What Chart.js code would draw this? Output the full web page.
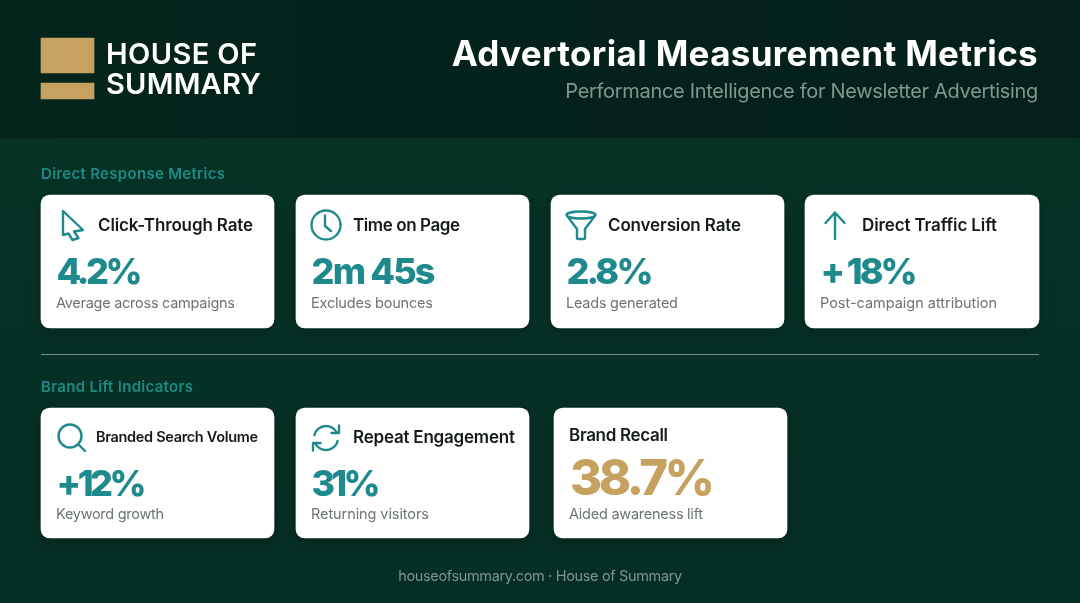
<!DOCTYPE html>
<html>
<head>
<meta charset="utf-8">
<title>Advertorial Measurement Metrics</title>
<script src="https://cdn.jsdelivr.net/npm/chart.js@4"></script>
<style>
    html, body { margin: 0; padding: 0; background: #052e24; }
    canvas { display: block; }
</style>
</head>
<body>
<canvas id="chart" width="1080" height="603"></canvas>
<script>
const tileTitles = ['Click-Through Rate', 'Time on Page', 'Conversion Rate', 'Direct Traffic Lift', 'Branded Search Volume', 'Repeat Engagement', 'Brand Recall']
const tileValues = ['4.2%', '2m 45s', '2.8%', '+ 18%', '+12%', '31%', '38.7%']
const tileNotes = ['Average across campaigns', 'Excludes bounces', 'Leads generated', 'Post-campaign attribution', 'Keyword growth', 'Returning visitors', 'Aided awareness lift']
const tileIcons = ['cursor', 'clock', 'funnel', 'arrow', 'search', 'refresh', null]
const sections = ['Direct Response Metrics', 'Brand Lift Indicators']

// layout of the tiles, in canvas pixels (the axes run 0-1080 and 0-603)
const rowOneEdges = [[41, 274], [296, 529], [551, 784], [805, 1039]]
const rowTwoEdges = [[41, 274], [296, 529], [554, 787]]
const titleWidths = [155, 107, 133, 135, 162, 162, 99]
const valueWidths = [86, 124, 87, 97, 90, 69, 145]
const noteWidths = [179, 122, 112, 177, 108, 118, 134]

const TEAL = '#1f8a8d'
const GOLD = '#c6a15f'

const text = (ctx, str, x, y, font, color, width, align = 'left') => {
    ctx.save()
    ctx.font = font
    ctx.fillStyle = color
    ctx.textAlign = align
    ctx.textBaseline = 'middle'
    if (width) {
        ctx.letterSpacing = '0px'
        const spacing = (width - ctx.measureText(str).width) / Math.max(str.length - 1, 1)
        ctx.letterSpacing = `${spacing}px`
    }
    ctx.fillText(str, x, y)
    ctx.restore()
}

const icons = {
    cursor: (c) => {
        c.moveTo(63, 211); c.lineTo(83, 230); c.lineTo(74, 231.5); c.lineTo(78.5, 238)
        c.lineTo(72.5, 240); c.lineTo(68.5, 233.5); c.lineTo(63, 235); c.closePath()
    },
    clock: (c) => {
        c.arc(326, 225, 14.5, 0, Math.PI * 2)
        c.moveTo(325, 215.5); c.lineTo(325, 226); c.lineTo(331, 231)
    },
    funnel: (c) => {
        c.ellipse(581, 215, 14.5, 3.5, 0, 0, Math.PI * 2)
        c.moveTo(566.5, 215); c.lineTo(577, 229); c.lineTo(577, 238); c.quadraticCurveTo(577, 239, 579, 239)
        c.lineTo(583, 239); c.quadraticCurveTo(585, 239, 585, 238); c.lineTo(585, 229); c.lineTo(595.5, 215)
    },
    arrow: (c) => {
        c.moveTo(835, 239); c.lineTo(835, 213)
        c.moveTo(825.5, 223); c.lineTo(835, 212.5); c.lineTo(844.5, 223)
    },
    search: (c) => {
        c.moveTo(81.5, 436); c.arc(70, 436, 11.5, 0, Math.PI * 2)
        c.moveTo(78.5, 444.5); c.lineTo(85, 451)
    },
    refresh: (c) => {
        c.moveTo(314.6, 434.8); c.arc(326, 438, 12, Math.PI * 1.08, Math.PI * 1.85)
        c.moveTo(339, 425.5); c.lineTo(339, 433); c.lineTo(331.5, 433)
        c.moveTo(337.4, 441.2); c.arc(326, 438, 12, Math.PI * 0.08, Math.PI * 0.85)
        c.moveTo(313, 450.5); c.lineTo(313, 443); c.lineTo(320.5, 443)
    }
}

const backdrop = {
    id: 'backdrop',
    beforeDraw(chart) {
        const {ctx} = chart
        const body = ctx.createLinearGradient(0, 138, 0, 603)
        body.addColorStop(0, '#063226')
        body.addColorStop(1, '#052e24')
        ctx.fillStyle = body
        ctx.fillRect(0, 0, 1080, 603)
        const head = ctx.createLinearGradient(0, 0, 1080, 0)
        head.addColorStop(0, '#04241c')
        head.addColorStop(1, '#03201a')
        ctx.fillStyle = head
        ctx.fillRect(0, 0, 1080, 138)
        ctx.fillStyle = 'rgba(205, 225, 215, 0.55)'
        ctx.fillRect(41, 354, 998, 1)
    },
    beforeDatasetDraw(chart, args) {
        if (args.index > 1) return
        chart.ctx.save()
        chart.ctx.shadowColor = 'rgba(0, 0, 0, 0.25)'
        chart.ctx.shadowBlur = 14
        chart.ctx.shadowOffsetY = 4
    },
    afterDatasetDraw(chart, args) {
        if (args.index > 1) return
        chart.ctx.restore()
    }
}

const labels = {
    id: 'labels',
    afterDatasetsDraw(chart) {
        const {ctx} = chart
        const bars = [...chart.getDatasetMeta(0).data, ...chart.getDatasetMeta(1).data]

        bars.forEach((bar, i) => {
            const left = bar.base
            const top = bar.y - bar.height / 2
            const secondRow = i > 3
            const recall = i === 6
            const titleX = recall ? left + 15 : left + (i === 4 ? 55 : 57)
            const titleY = top + (recall ? 27.5 : secondRow ? 30 : 31)
            const titleSize = i === 4 ? 14.5 : 17
            text(ctx, tileTitles[i], titleX, titleY, `600 ${titleSize}px Inter`, '#14191a', titleWidths[i])
            const valueSize = recall ? 49 : 36
            const valueY = top + (recall ? 72 : secondRow ? 77 : 78)
            text(ctx, tileValues[i], left + (recall ? 16 : 15.5), valueY, `800 ${valueSize}px Inter`, recall ? GOLD : TEAL, valueWidths[i])
            text(ctx, tileNotes[i], left + 15, top + (secondRow ? 106.5 : 109), '400 14.5px Inter', '#6c7474', noteWidths[i])

            if (tileIcons[i]) {
                ctx.save()
                ctx.strokeStyle = TEAL
                ctx.lineWidth = 2.4
                ctx.lineJoin = 'round'
                ctx.lineCap = 'round'
                ctx.beginPath()
                icons[tileIcons[i]](ctx)
                ctx.stroke()
                ctx.restore()
            }
        })

        text(ctx, 'HOUSE OF', 106, 55, '600 29px Inter', '#ffffff', 151)
        text(ctx, 'SUMMARY', 106, 85, '600 29px Inter', '#ffffff', 155)
        text(ctx, 'Advertorial Measurement Metrics', 1038, 55.5, '700 35px Inter', '#ffffff', 586, 'right')
        text(ctx, 'Performance Intelligence for Newsletter Advertising', 1038, 92, '400 20px Inter', '#7d988f', 473, 'right')
        text(ctx, sections[0], 41, 174, '600 15px Inter', '#1d8a86', 184)
        text(ctx, sections[1], 41, 387.5, '600 15px Inter', '#1d8a86', 152)
        text(ctx, 'houseofsummary.com · House of Summary', 540, 576.5, '400 14.5px Inter', '#7f958e', 284, 'center')
    }
}

new Chart(document.getElementById('chart'), {
    type: 'bar',
    data: {
        datasets: [
            {
                data: rowOneEdges.map((edges) => ({x: edges, y: 261.5})),
                barThickness: 133,
                backgroundColor: '#ffffff',
                borderRadius: 9,
                borderSkipped: false
            },
            {
                data: rowTwoEdges.map((edges) => ({x: edges, y: 473})),
                barThickness: 130,
                backgroundColor: '#ffffff',
                borderRadius: 9,
                borderSkipped: false
            },
            {
                // logo blocks
                data: [{x: [41, 94], y: 55.5}],
                barThickness: 35,
                backgroundColor: GOLD
            },
            {
                data: [{x: [41, 94], y: 91}],
                barThickness: 16,
                backgroundColor: GOLD
            }
        ]
    },
    options: {
        indexAxis: 'y',
        responsive: false,
        animation: false,
        events: [],
        layout: {padding: 0},
        plugins: {legend: {display: false}, tooltip: {enabled: false}},
        datasets: {bar: {grouped: false}},
        scales: {
            x: {type: 'linear', min: 0, max: 1080, display: false},
            y: {type: 'linear', min: 0, max: 603, reverse: true, offset: false, display: false}
        }
    },
    plugins: [backdrop, labels]
})
</script>
</body>
</html>
